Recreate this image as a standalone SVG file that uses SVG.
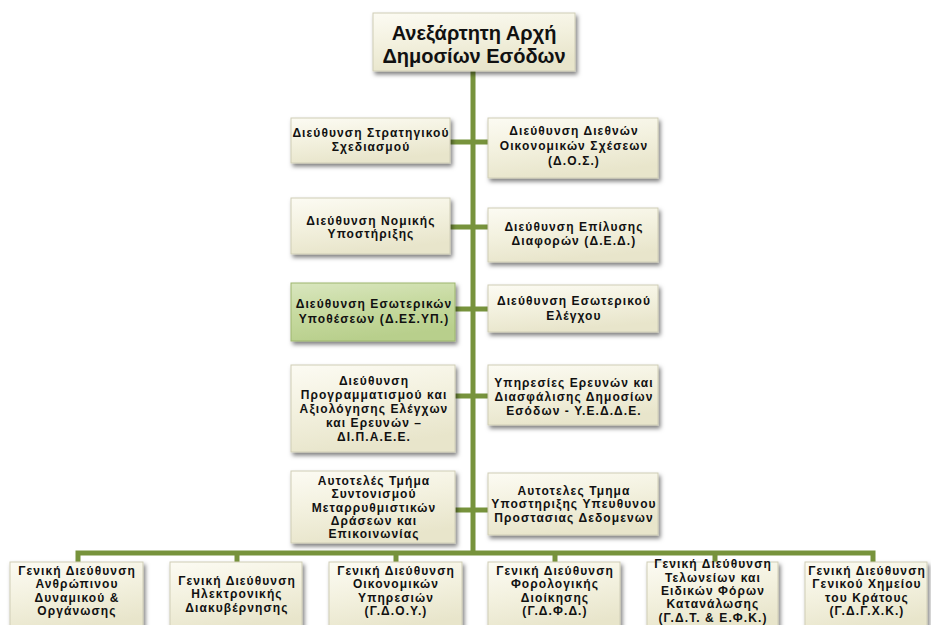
<svg xmlns="http://www.w3.org/2000/svg" width="931" height="625" viewBox="0 0 931 625">
<defs>
<linearGradient id="cream" x1="0" y1="0" x2="0.3" y2="1">
<stop offset="0" stop-color="#FCFBF3"/>
<stop offset="0.5" stop-color="#F3F1DF"/>
<stop offset="1" stop-color="#E8E5CB"/>
</linearGradient>
<linearGradient id="green" x1="0" y1="0" x2="0.3" y2="1">
<stop offset="0" stop-color="#D9E6BF"/>
<stop offset="0.5" stop-color="#C7DAA0"/>
<stop offset="1" stop-color="#B8CF8C"/>
</linearGradient>
<filter id="sh" x="-10%" y="-10%" width="125%" height="135%">
<feDropShadow dx="2" dy="3" stdDeviation="2" flood-color="#000" flood-opacity="0.5"/>
</filter>
</defs>
<style>
.box{fill:url(#cream);stroke:#CFCDB6;stroke-width:1;filter:url(#sh)}
.gbox{fill:url(#green);stroke:#9DB56E;stroke-width:1;filter:url(#sh)}
.t{font-family:"Liberation Sans",Arial,sans-serif;font-weight:bold;font-size:12px;letter-spacing:1.1px;fill:#111;text-anchor:middle}
.tt{font-family:"Liberation Sans",Arial,sans-serif;font-weight:bold;font-size:20px;fill:#111;text-anchor:middle}
.ln{stroke:#77933C;stroke-width:5;fill:none}
</style>
<rect width="931" height="625" fill="#FFFFFF"/>
<g id="connectors">
<line class="ln" x1="473" y1="70" x2="473" y2="555"/>
<line class="ln" x1="450" y1="142" x2="489" y2="142"/>
<line class="ln" x1="450" y1="227" x2="489" y2="227"/>
<line class="ln" x1="454" y1="309" x2="489" y2="309"/>
<line class="ln" x1="454" y1="396" x2="489" y2="396"/>
<line class="ln" x1="454" y1="510" x2="489" y2="510"/>
<polyline class="ln" points="78,564 78,553 873,553 873,564"/>
<line class="ln" x1="237" y1="553" x2="237" y2="564"/>
<line class="ln" x1="396" y1="553" x2="396" y2="564"/>
<line class="ln" x1="555" y1="553" x2="555" y2="564"/>
<line class="ln" x1="715" y1="553" x2="715" y2="564"/>
</g>
<g id="n0">
<rect class="box" x="373" y="13" width="202" height="58"/>
<text class="tt" x="474" y="40">Ανεξάρτητη Αρχή</text>
<text class="tt" x="474" y="63">Δημοσίων Εσόδων</text>
</g>
<g id="n1">
<rect class="box" x="291" y="118" width="159" height="45"/>
<text class="t" x="371" y="137">Διεύθυνση Στρατηγικού</text>
<text class="t" x="371" y="151">Σχεδιασμού</text>
</g>
<g id="n2">
<rect class="box" x="488" y="118" width="170" height="60"/>
<text class="t" x="574" y="135">Διεύθυνση Διεθνών</text>
<text class="t" x="574" y="150">Οικονομικών Σχέσεων</text>
<text class="t" x="574" y="165">(Δ.Ο.Σ.)</text>
</g>
<g id="n3">
<rect class="box" x="291" y="198" width="159" height="56"/>
<text class="t" x="371" y="225">Διεύθυνση Νομικής</text>
<text class="t" x="371" y="238">Υποστήριξης</text>
</g>
<g id="n4">
<rect class="box" x="488" y="208" width="170" height="54"/>
<text class="t" x="574" y="231">Διεύθυνση Επίλυσης</text>
<text class="t" x="574" y="245">Διαφορών (Δ.Ε.Δ.)</text>
</g>
<g id="n5">
<rect class="gbox" x="291" y="283" width="164" height="58"/>
<text class="t" x="374" y="308">Διεύθυνση Εσωτερικών</text>
<text class="t" x="374" y="323">Υποθέσεων (Δ.ΕΣ.ΥΠ.)</text>
</g>
<g id="n6">
<rect class="box" x="488" y="285" width="170" height="47"/>
<text class="t" x="574" y="305">Διεύθυνση Εσωτερικού</text>
<text class="t" x="574" y="320">Ελέγχου</text>
</g>
<g id="n7">
<rect class="box" x="291" y="365" width="164" height="87"/>
<text class="t" x="374" y="385">Διεύθυνση</text>
<text class="t" x="374" y="399">Προγραμματισμού και</text>
<text class="t" x="374" y="413">Αξιολόγησης Ελέγχων</text>
<text class="t" x="374" y="427">και Ερευνών –</text>
<text class="t" x="374" y="441">ΔΙ.Π.Α.Ε.Ε.</text>
</g>
<g id="n8">
<rect class="box" x="488" y="365" width="170" height="60"/>
<text class="t" x="574" y="387">Υπηρεσίες Ερευνών και</text>
<text class="t" x="574" y="401">Διασφάλισης Δημοσίων</text>
<text class="t" x="574" y="415">Εσόδων - Υ.Ε.Δ.Δ.Ε.</text>
</g>
<g id="n9">
<rect class="box" x="291" y="471" width="164" height="72"/>
<text class="t" x="374" y="485">Αυτοτελές Τμήμα</text>
<text class="t" x="374" y="498">Συντονισμού</text>
<text class="t" x="374" y="512">Μεταρρυθμιστικών</text>
<text class="t" x="374" y="525">Δράσεων και</text>
<text class="t" x="374" y="538">Επικοινωνίας</text>
</g>
<g id="n10">
<rect class="box" x="488" y="473" width="170" height="62"/>
<text class="t" x="574" y="495">Αυτοτελες Τμημα</text>
<text class="t" x="574" y="508">Υποστηριξης Υπευθυνου</text>
<text class="t" x="574" y="522">Προστασιας Δεδομενων</text>
</g>
<g id="n11">
<rect class="box" x="10" y="562" width="133" height="70"/>
<text class="t" x="77" y="575">Γενική Διεύθυνση</text>
<text class="t" x="77" y="588">Ανθρώπινου</text>
<text class="t" x="77" y="602">Δυναμικού &amp;</text>
<text class="t" x="77" y="615">Οργάνωσης</text>
</g>
<g id="n12">
<rect class="box" x="170" y="562" width="132" height="70"/>
<text class="t" x="237" y="585">Γενική Διεύθυνση</text>
<text class="t" x="237" y="598">Ηλεκτρονικής</text>
<text class="t" x="237" y="612">Διακυβέρνησης</text>
</g>
<g id="n13">
<rect class="box" x="329" y="562" width="133" height="70"/>
<text class="t" x="396" y="575">Γενική Διεύθυνση</text>
<text class="t" x="396" y="588">Οικονομικών</text>
<text class="t" x="396" y="602">Υπηρεσιών</text>
<text class="t" x="396" y="615">(Γ.Δ.Ο.Υ.)</text>
</g>
<g id="n14">
<rect class="box" x="488" y="562" width="132" height="70"/>
<text class="t" x="555" y="575">Γενική Διεύθυνση</text>
<text class="t" x="555" y="588">Φορολογικής</text>
<text class="t" x="555" y="602">Διοίκησης</text>
<text class="t" x="555" y="615">(Γ.Δ.Φ.Δ.)</text>
</g>
<g id="n15">
<rect class="box" x="647" y="562" width="131" height="70"/>
<text class="t" x="713" y="568">Γενική Διεύθυνση</text>
<text class="t" x="713" y="582">Τελωνείων και</text>
<text class="t" x="713" y="595">Ειδικών Φόρων</text>
<text class="t" x="713" y="608">Κατανάλωσης</text>
<text class="t" x="713" y="622">(Γ.Δ.Τ. &amp; Ε.Φ.Κ.)</text>
</g>
<g id="n16">
<rect class="box" x="805" y="562" width="122" height="70"/>
<text class="t" x="867" y="575">Γενική Διεύθυνση</text>
<text class="t" x="867" y="588">Γενικού Χημείου</text>
<text class="t" x="867" y="602">του Κράτους</text>
<text class="t" x="867" y="615">(Γ.Δ.Γ.Χ.Κ.)</text>
</g>
</svg>
